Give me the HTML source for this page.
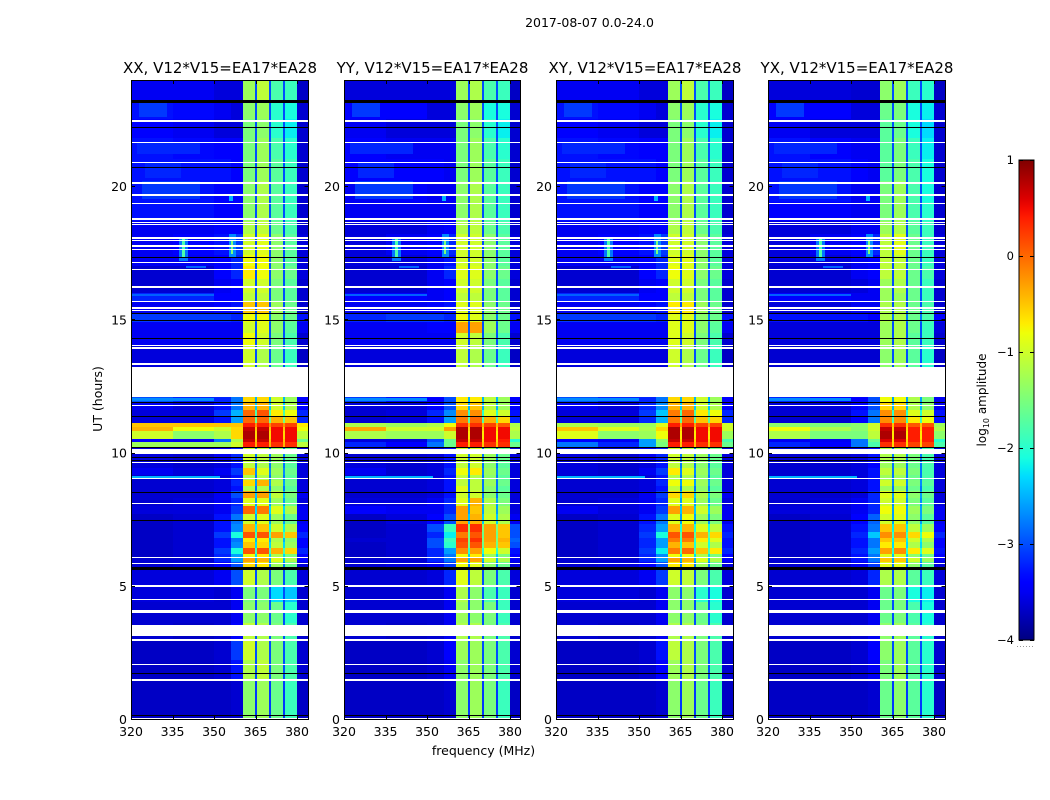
<!DOCTYPE html>
<html>
<head>
<meta charset="utf-8">
<title>2017-08-07 amplitude waterfall</title>
<style>
html,body{margin:0;padding:0;background:#fff;width:1050px;height:800px;overflow:hidden}
svg{display:block}
text{font-family:"DejaVu Sans","Liberation Sans",sans-serif;fill:#000}
</style>
</head>
<body>
<svg id="chart" xmlns="http://www.w3.org/2000/svg" width="1050" height="800" viewBox="0 0 1050 800" shape-rendering="crispEdges">
<defs><linearGradient id="jet-gradient" x1="0" y1="1" x2="0" y2="0"></linearGradient></defs>
<text x="589.5" y="27" font-size="12.5" text-anchor="middle">2017-08-07 0.0-24.0</text>
<text x="483.5" y="755" font-size="12.5" text-anchor="middle">frequency (MHz)</text>
<text x="102" y="399" font-size="12.5" text-anchor="middle" transform="rotate(-90 102 399)">UT (hours)</text>
<text x="986" y="400" font-size="12" text-anchor="middle" transform="rotate(-90 986 400)">log<tspan font-size="8" dy="3">10</tspan><tspan dy="-3"> amplitude</tspan></text>
</svg>
<script>
const panelTitles = ["XX, V12*V15=EA17*EA28","YY, V12*V15=EA17*EA28","XY, V12*V15=EA17*EA28","YX, V12*V15=EA17*EA28"];
const freqTicks = [320,335,350,365,380];
const timeTicks = [0,5,10,15,20];
const colorTicks = [-4,-3,-2,-1,0,1];
const freqEdges = [320,335,350,356,360.5,364.7,365.4,369.8,370.5,374.9,375.6,380,384];
const columnKeys = [0,1,2,3,4,8,5,8,6,8,7,9];
const timeEdges = [0,1.5,2.2,3,3.6,4.4,5,5.7,5.9,6.05,6.2,6.4,6.65,6.8,7,7.3,7.7,8,8.3,8.55,8.75,8.95,9.15,9.4,9.7,10.16,10.38,10.5,10.8,10.94,11.09,11.35,11.6,11.85,12.07,13.22,14,14.5,14.9,15.25,15.7,16,16.5,17,17.4,18.2,18.7,19.4,20.2,21,21.8,22.5,23.2,24];
const flaggedHours = [[22.42,22.47],[21.61,21.66],[20.86,20.91],[20.09,20.14],[19.61,19.71],[19.32,19.37],[18.74,18.79],[18.6,18.64],[18.54,18.58],[18.03,18.08],[17.93,17.98],[17.71,17.8],[17.6,17.64],[17.11,17.16],[16.84,16.89],[16.19,16.24],[15.64,15.69],[15.4,15.45],[15.31,15.36],[13.98,14.03],[13.89,13.94],[13.3,13.34],[12.07,13.22],[11.74,11.79],[9.94,10.12],[9.6,9.65],[9,9.05],[8.05,8.1],[6.04,6.09],[5.81,5.86],[4.96,5.04],[4.46,4.51],[3.99,4.09],[3.13,3.53],[2.94,3.01],[2.02,2.07],[1.43,1.5],[0,0.05]];
const blackHours = [[23.11,23.21],[22.17,22.21],[20.68,20.72],[17.29,17.33],[15.19,15.23],[14.94,14.98],[14.26,14.3],[11.86,11.9],[11.34,11.38],[10.17,10.21],[9.8,9.84],[9.67,9.71],[8.49,8.53],[7.44,7.48],[5.59,5.69],[1.68,1.72],[0.1,0.14]];
const hotSpots = [[17.2,18.1,337.5,340.5,-2.8],[17.3,18,338.6,339.4,-1.8],[17.3,18.2,355.3,357.8,-2.7],[17.45,17.95,356,357,-1.5],[19.45,19.62,355.5,357,-2.5],[15.86,15.94,320,350,-2.9],[16.93,17,340,347,-2.9],[11.95,12.03,320,350,-2.7],[9,9.1,320,352,-2.5],[22.6,23.1,323,333,-3.1],[19.5,20.2,324,345,-3.1],[20.3,20.9,325,338,-3.2],[21.2,21.6,322,345,-3.2]];
const xxValues = [
[-3.7,-3.7,-3.7,-3.65,-1.4,-1.3,-1.6,-1.9,-3.1,-3.7],[-3.7,-3.7,-3.65,-3.3,-1.2,-1.1,-1.5,-1.8,-3,-3.65],[-3.7,-3.7,-3.65,-3.1,-1,-1.2,-1.5,-1.8,-3,-3.65],[-3.65,-3.7,-3.65,-3.4,-1.1,-1.2,-1.5,-1.8,-3,-3.65],[-3.65,-3.65,-3.65,-3.5,-1.4,-1.4,-1.6,-2,-3,-3.65],[-3.6,-3.6,-3.65,-3.5,-1.5,-1.5,-2.3,-2.4,-3,-3.65],[-3.6,-3.6,-3.5,-3,-1,-1.2,-1.5,-1.8,-3,-3.6],[-3.65,-3.6,-3.4,-3,-.6,-.7,-1.3,-1.6,-2.8,-3.6],[-3.65,-3.65,-3.2,-2.6,-.3,-.4,-.9,-1.2,-2.5,-3.4],[-3.7,-3.65,-3.2,-2.6,-.8,-.7,-1.2,-1.5,-2.3,-3.4],
[-3.7,-3.65,-3.1,-2.1,.1,.1,-.4,-.6,-1.8,-3.2],[-3.7,-3.65,-3.3,-2.7,-.5,-.6,-1.1,-1.3,-2.3,-3.4],[-3.7,-3.65,-3.3,-2.8,-.7,-.7,-1.2,-1.4,-2.5,-3.4],[-3.7,-3.65,-3.1,-2.1,.1,.1,-.3,-.5,-1.8,-3.2],[-3.7,-3.65,-3.3,-2.7,-.4,-.5,-1,-1.2,-2.2,-3.4],[-3.7,-3.65,-3.3,-2.8,-1,-.9,-1.3,-1.6,-2.6,-3.5],[-3.6,-3.6,-3.5,-3.1,0,-.1,-.9,-1.2,-2.3,-3.5],[-3.65,-3.6,-3.5,-3.2,-.9,-.9,-1.3,-1.6,-2.6,-3.6],[-3.65,-3.65,-3.5,-3,-.3,-.3,-1.1,-1.5,-2.4,-3.5],[-3.65,-3.65,-3.6,-3.3,-1.2,-1.2,-1.4,-1.7,-2.8,-3.6],
[-3.65,-3.65,-3.6,-3.2,-.6,-.4,-1.2,-1.6,-2.6,-3.6],[-3.65,-3.65,-3.6,-3.3,-1.2,-1.2,-1.4,-1.7,-2.8,-3.6],[-3.5,-3.6,-3.5,-3.1,-.5,-.9,-1.3,-1.6,-2.7,-3.6],[-3.6,-3.65,-3.6,-3.3,-1.1,-1.2,-1.4,-1.7,-2.8,-3.6],[-3.6,-3.65,-3.5,-3.2,-1,-1.1,-1.3,-1.6,-2.8,-3.6],[-1.3,-1.3,-1.3,-1,.4,.4,.3,.3,-.4,-1.1],[-3.4,-3.5,-2.8,-1.2,.7,.7,.5,.5,-.5,-1.6],[-1,-1.4,-1.2,-.6,.8,.8,.5,.5,-.6,-1.1],[-.4,-.8,-1,-.6,.7,.7,.5,.5,-.5,-.8],[-.5,-.5,-.5,-.5,.4,.4,.2,.2,-.2,-.7],
[-3.6,-3.6,-3.3,-2.6,0,0,-.4,-.5,-1.6,-3.2],[-3.6,-3.6,-3.1,-2.5,0,.1,-.7,-.8,-1.8,-3.2],[-3.5,-3.6,-3.3,-2.8,-.4,-.4,-1,-1.2,-2.4,-3.4],[-3,-3.2,-3.2,-2.8,-.6,-.6,-1,-1.3,-2.5,-3.4],[-3.6,-3.6,-3.6,-3.6,-1,-1.2,-1.6,-1.9,-3,-3.7],[-3.6,-3.6,-3.6,-3.6,-1,-1.2,-1.6,-1.9,-3,-3.7],[-3.5,-3.5,-3.5,-3.5,-.8,-1,-1.5,-1.8,-3,-3.65],[-3.5,-3.5,-3.5,-3.5,-1,-.9,-1.4,-1.7,-3,-3.5],[-3.1,-3.1,-3.1,-3.2,-.8,-.8,-1.4,-1.6,-2.8,-3.3],[-3.5,-3.5,-3.4,-3.3,-.5,-.5,-1.3,-1.6,-3,-3.65],
[-3.2,-3.2,-3.4,-3.4,-1.1,-1.1,-1.5,-1.7,-3,-3.65],[-3.65,-3.65,-3.5,-3.4,-1,-1,-1.5,-1.7,-3,-3.65],[-3.65,-3.65,-3.4,-3.2,-.7,-.8,-1.4,-1.6,-3,-3.6],[-3.5,-3.5,-3.4,-3.2,-.8,-.8,-1.4,-1.7,-3,-3.6],[-3.5,-3.4,-3.3,-3.1,-1,-.9,-1.4,-1.7,-3,-3.6],[-3.5,-3.5,-3.4,-3.4,-1.2,-1.1,-1.6,-1.8,-3,-3.65],[-3.3,-3.3,-3.4,-3.4,-1.4,-1.2,-1.7,-1.9,-3,-3.65],[-3.3,-3.3,-3.4,-3.4,-1.4,-1.2,-1.7,-1.9,-3,-3.65],[-3.3,-3.3,-3.3,-3.4,-1.5,-1.3,-1.7,-1.9,-3,-3.65],[-3.3,-3.35,-3.4,-3.4,-1.5,-1.3,-1.8,-2,-3,-3.65],
[-3.4,-3.5,-3.6,-3.6,-1.5,-1.4,-2,-2.2,-3,-3.65],[-3.3,-3.35,-3.5,-3.6,-1.4,-1.3,-2,-2.1,-3,-3.65],[-3.5,-3.5,-3.6,-3.6,-1.3,-1.1,-1.8,-1.9,-3,-3.7]];
const yyValues = [
[-3.7,-3.7,-3.7,-3.65,-1.4,-1.3,-1.5,-1.9,-3.1,-3.7],[-3.7,-3.7,-3.65,-3.5,-1.4,-1.3,-1.5,-1.8,-3,-3.65],[-3.7,-3.7,-3.65,-3.4,-1.3,-1.3,-1.5,-1.8,-3,-3.65],[-3.65,-3.7,-3.65,-3.5,-1.2,-1.2,-1.5,-1.8,-3,-3.65],[-3.65,-3.65,-3.65,-3.5,-1.3,-1.4,-1.5,-1.9,-3,-3.65],[-3.65,-3.65,-3.65,-3.5,-1.2,-1.4,-1.8,-1.9,-3,-3.65],[-3.65,-3.65,-3.6,-3.2,-.9,-1.1,-1.5,-1.8,-3,-3.6],[-3.65,-3.6,-3.5,-3.1,-.8,-.9,-1.4,-1.6,-2.8,-3.6],[-3.65,-3.65,-3.2,-2.8,-.3,-.3,-1,-1.2,-2.5,-3.5],[-3.7,-3.65,-3.2,-2.8,-.8,-.7,-1.3,-1.5,-2.4,-3.4],
[-3.7,-3.65,-3.2,-2.6,-.2,-.3,-.8,-1,-2,-3.3],[-3.7,-3.65,-3,-2,.1,.1,-.4,-.5,-1.6,-3],[-3.65,-3.65,-3,-1.9,.2,.3,-.3,-.4,-1.5,-2.9],[-3.7,-3.65,-3.2,-2.2,-.1,.1,-.3,-.5,-1.6,-3],[-3.7,-3.65,-3,-1.9,.3,.3,-.3,-.5,-1.5,-3],[-3.7,-3.6,-3.4,-3,-.3,-.4,-1,-1.2,-2.4,-3.5],[-3.4,-3.5,-3.5,-3.2,-.3,-.5,-1.1,-1.3,-2.6,-3.6],[-3.6,-3.6,-3.5,-3.2,-.9,-.4,-1.2,-1.5,-2.6,-3.6],[-3.65,-3.65,-3.6,-3.3,-1,-1,-1.4,-1.6,-2.8,-3.6],[-3.65,-3.65,-3.6,-3.3,-.9,-1.1,-1.4,-1.7,-2.8,-3.6],
[-3.65,-3.65,-3.6,-3.3,-1.1,-1.1,-1.3,-1.6,-2.8,-3.6],[-3.65,-3.65,-3.6,-3.3,-1.1,-1.2,-1.4,-1.7,-2.8,-3.6],[-3.5,-3.65,-3.6,-3.2,-.8,-.7,-1.3,-1.6,-2.7,-3.6],[-3.6,-3.65,-3.6,-3.3,-1.1,-1,-1.4,-1.7,-2.8,-3.6],[-3.65,-3.65,-3.6,-3.3,-1,-1,-1.3,-1.6,-2.8,-3.6],[-3.2,-3.4,-2.8,-1.6,.4,.4,.3,.3,-.5,-1.6],[-3.6,-3.6,-3,-1.6,.7,.7,.5,.4,-.6,-2],[-1.2,-1.3,-1.3,-1,.8,.8,.5,.5,-.7,-1.2],[-.35,-1,-1,-.3,.8,.8,.5,.5,-.6,-1.1],[-1.2,-1.3,-1.2,-.8,.3,.3,.2,.1,-.4,-1.2],
[-3.65,-3.6,-3.3,-2.6,-.1,0,-.4,-.6,-1.8,-3.2],[-3.65,-3.6,-3.2,-2.7,-.2,-.2,-.9,-1,-2,-3.3],[-3.6,-3.6,-3.4,-3,-.6,-.5,-1.1,-1.3,-2.5,-3.4],[-3.1,-3.3,-3.4,-3,-.7,-.7,-1.1,-1.3,-2.5,-3.4],[-3.6,-3.6,-3.6,-3.6,-1,-1.2,-1.6,-1.9,-3,-3.7],[-3.6,-3.6,-3.6,-3.6,-1.1,-1.2,-1.6,-1.9,-3,-3.7],[-3.5,-3.5,-3.5,-3.5,-1,-1.1,-1.5,-1.8,-3,-3.65],[-3.5,-3.5,-3.4,-3.4,-.3,-.3,-1.3,-1.6,-3,-3.5],[-3.2,-3.1,-3.1,-3.2,-.8,-.9,-1.4,-1.6,-2.8,-3.3],[-3.5,-3.5,-3.4,-3.3,-.9,-.9,-1.4,-1.6,-3,-3.65],
[-3.4,-3.4,-3.5,-3.4,-1.1,-1.1,-1.5,-1.7,-3,-3.65],[-3.65,-3.65,-3.5,-3.4,-1,-1,-1.5,-1.7,-3,-3.65],[-3.65,-3.65,-3.5,-3.2,-.9,-.9,-1.4,-1.6,-3,-3.6],[-3.6,-3.6,-3.5,-3.3,-1,-1,-1.4,-1.7,-3,-3.6],[-3.6,-3.5,-3.4,-3.2,-1,-1,-1.4,-1.7,-3,-3.6],[-3.6,-3.6,-3.5,-3.4,-1.2,-1.1,-1.6,-1.8,-3,-3.65],[-3.5,-3.5,-3.5,-3.5,-1.4,-1.2,-1.7,-1.9,-3,-3.65],[-3.5,-3.4,-3.5,-3.5,-1.4,-1.2,-1.7,-1.9,-3,-3.65],[-3.4,-3.4,-3.4,-3.5,-1.5,-1.3,-1.7,-1.9,-3,-3.65],[-3.4,-3.5,-3.5,-3.5,-1.5,-1.3,-1.8,-2,-3,-3.65],
[-3.5,-3.6,-3.6,-3.6,-1.5,-1.4,-2,-2.2,-3,-3.65],[-3.4,-3.4,-3.6,-3.6,-1.4,-1.3,-2.1,-2.1,-3,-3.65],[-3.6,-3.6,-3.6,-3.6,-1.3,-1.2,-1.8,-1.9,-3,-3.7]];
const xyValues = [
[-3.7,-3.7,-3.7,-3.65,-1.4,-1.3,-1.6,-1.9,-3.1,-3.7],[-3.7,-3.7,-3.65,-3.4,-1.3,-1.2,-1.5,-1.8,-3,-3.65],[-3.7,-3.7,-3.65,-3.3,-1.1,-1.2,-1.5,-1.8,-3,-3.65],[-3.65,-3.7,-3.65,-3.5,-1.2,-1.2,-1.5,-1.8,-3,-3.65],[-3.65,-3.65,-3.65,-3.5,-1.4,-1.4,-1.6,-2,-3,-3.65],[-3.6,-3.6,-3.65,-3.5,-1.4,-1.4,-2,-2.1,-3,-3.65],[-3.6,-3.6,-3.5,-3.1,-1,-1.1,-1.5,-1.8,-3,-3.6],[-3.65,-3.6,-3.4,-3,-.7,-.7,-1.3,-1.6,-2.8,-3.6],[-3.65,-3.65,-3.2,-2.6,-.3,-.4,-.9,-1.2,-2.5,-3.4],[-3.7,-3.65,-3.2,-2.7,-.8,-.8,-1.2,-1.5,-2.3,-3.4],
[-3.7,-3.65,-3.1,-2.2,-.1,0,-.5,-.7,-1.8,-3.2],[-3.7,-3.65,-3.2,-2.6,-.4,-.5,-1,-1.2,-2.1,-3.3],[-3.7,-3.65,-3.2,-2.6,-.1,-.1,-.7,-.9,-2,-3.3],[-3.7,-3.65,-3.1,-2.1,.1,.1,-.4,-.6,-1.7,-3.2],[-3.7,-3.65,-3.2,-2.6,-.4,-.4,-.9,-1.1,-2.1,-3.3],[-3.7,-3.65,-3.3,-2.8,-.9,-.8,-1.3,-1.5,-2.6,-3.5],[-3.5,-3.6,-3.5,-3.1,-.3,-.4,-1,-1.3,-2.4,-3.5],[-3.65,-3.6,-3.5,-3.2,-.9,-.9,-1.3,-1.6,-2.6,-3.6],[-3.65,-3.65,-3.5,-3.1,-.6,-.6,-1.2,-1.5,-2.4,-3.5],[-3.65,-3.65,-3.6,-3.3,-1.1,-1.2,-1.4,-1.7,-2.8,-3.6],
[-3.65,-3.65,-3.6,-3.2,-.8,-.8,-1.3,-1.6,-2.6,-3.6],[-3.65,-3.65,-3.6,-3.3,-1.2,-1.2,-1.4,-1.7,-2.8,-3.6],[-3.6,-3.65,-3.5,-3.1,-.7,-.9,-1.3,-1.6,-2.7,-3.6],[-3.6,-3.65,-3.6,-3.3,-1.1,-1.2,-1.4,-1.7,-2.8,-3.6],[-3.6,-3.65,-3.5,-3.2,-1,-1.1,-1.3,-1.6,-2.8,-3.6],[-2.8,-3.2,-2.6,-1.5,.4,.4,.3,.3,-.5,-1.6],[-3.4,-3.5,-2.6,-1.4,.7,.7,.5,.5,-.6,-1.8],[-.9,-1.4,-1.3,-.8,.8,.8,.5,.5,-.7,-1.3],[-.5,-.9,-1.2,-.6,.8,.8,.5,.5,-.6,-1],[-1.2,-1.3,-1.3,-.9,.4,.4,.2,.2,-.3,-1],
[-3.6,-3.6,-3.2,-2.5,-.1,0,-.5,-.6,-1.7,-3.2],[-3.6,-3.6,-3.1,-2.4,-.1,0,-.7,-.8,-1.8,-3.2],[-3.5,-3.6,-3.2,-2.7,-.4,-.4,-1,-1.2,-2.4,-3.4],[-3,-3.2,-3.2,-2.8,-.6,-.6,-1,-1.3,-2.5,-3.4],[-3.6,-3.6,-3.6,-3.6,-1.1,-1.2,-1.6,-1.9,-3,-3.7],[-3.6,-3.6,-3.6,-3.6,-1,-1.2,-1.6,-1.9,-3,-3.7],[-3.5,-3.5,-3.5,-3.5,-.9,-1,-1.5,-1.8,-3,-3.65],[-3.5,-3.5,-3.5,-3.5,-.9,-.9,-1.4,-1.7,-3,-3.5],[-3.1,-3.1,-3.1,-3.2,-.9,-.9,-1.4,-1.6,-2.8,-3.3],[-3.5,-3.5,-3.4,-3.3,-.7,-.7,-1.3,-1.6,-3,-3.65],
[-3.2,-3.2,-3.4,-3.4,-1.1,-1.1,-1.5,-1.7,-3,-3.65],[-3.65,-3.65,-3.5,-3.4,-1,-1,-1.5,-1.7,-3,-3.65],[-3.65,-3.65,-3.4,-3.2,-.8,-.9,-1.4,-1.6,-3,-3.6],[-3.5,-3.5,-3.4,-3.2,-.9,-.9,-1.4,-1.7,-3,-3.6],[-3.5,-3.4,-3.3,-3.1,-1,-1,-1.4,-1.7,-3,-3.6],[-3.5,-3.5,-3.4,-3.4,-1.2,-1.1,-1.6,-1.8,-3,-3.65],[-3.3,-3.3,-3.4,-3.4,-1.4,-1.2,-1.7,-1.9,-3,-3.65],[-3.3,-3.3,-3.4,-3.4,-1.4,-1.2,-1.7,-1.9,-3,-3.65],[-3.3,-3.3,-3.3,-3.4,-1.5,-1.3,-1.7,-1.9,-3,-3.65],[-3.3,-3.35,-3.4,-3.4,-1.5,-1.3,-1.8,-2,-3,-3.65],
[-3.4,-3.5,-3.6,-3.6,-1.5,-1.4,-2,-2.2,-3,-3.65],[-3.3,-3.35,-3.5,-3.6,-1.4,-1.3,-2,-2.1,-3,-3.65],[-3.5,-3.5,-3.6,-3.6,-1.3,-1.1,-1.8,-1.9,-3,-3.7]];
const yxValues = [
[-3.7,-3.7,-3.7,-3.65,-1.6,-1.4,-1.7,-2,-3.1,-3.7],[-3.7,-3.7,-3.65,-3.5,-1.5,-1.3,-1.7,-2,-3,-3.65],[-3.7,-3.7,-3.65,-3.4,-1.4,-1.3,-1.7,-2,-3,-3.65],[-3.65,-3.7,-3.65,-3.5,-1.4,-1.3,-1.7,-2,-3,-3.65],[-3.65,-3.65,-3.65,-3.5,-1.6,-1.5,-1.8,-2.1,-3,-3.65],[-3.65,-3.65,-3.65,-3.5,-1.6,-1.5,-2.1,-2.2,-3,-3.65],[-3.65,-3.65,-3.6,-3.2,-1.2,-1.2,-1.7,-1.9,-3,-3.6],[-3.65,-3.65,-3.5,-3.1,-.9,-.9,-1.4,-1.7,-2.8,-3.6],[-3.65,-3.65,-3.3,-2.8,-.5,-.5,-1,-1.3,-2.5,-3.5],[-3.7,-3.65,-3.3,-2.8,-.9,-.9,-1.4,-1.6,-2.4,-3.4],
[-3.7,-3.65,-3.2,-2.6,-.3,-.2,-.7,-.9,-2,-3.3],[-3.7,-3.65,-3.3,-2.8,-.7,-.7,-1.2,-1.4,-2.3,-3.4],[-3.7,-3.65,-3.3,-2.8,-.5,-.5,-1,-1.2,-2.2,-3.4],[-3.7,-3.65,-3.2,-2.4,-.2,-.2,-.6,-.8,-1.9,-3.2],[-3.7,-3.65,-3.3,-2.8,-.5,-.5,-1.1,-1.3,-2.2,-3.4],[-3.7,-3.65,-3.4,-2.9,-1,-.9,-1.4,-1.7,-2.6,-3.5],[-3.6,-3.6,-3.5,-3.2,-.8,-.8,-1.3,-1.5,-2.6,-3.5],[-3.65,-3.6,-3.5,-3.2,-1,-1,-1.5,-1.7,-2.7,-3.6],[-3.65,-3.65,-3.6,-3.2,-.9,-.9,-1.4,-1.6,-2.6,-3.6],[-3.65,-3.65,-3.6,-3.3,-1.3,-1.3,-1.6,-1.8,-2.8,-3.6],
[-3.65,-3.65,-3.6,-3.3,-1,-1,-1.5,-1.7,-2.7,-3.6],[-3.65,-3.65,-3.6,-3.3,-1.3,-1.3,-1.6,-1.8,-2.8,-3.6],[-3.65,-3.65,-3.6,-3.3,-1.1,-1.1,-1.5,-1.8,-2.8,-3.6],[-3.65,-3.65,-3.6,-3.4,-1.3,-1.3,-1.6,-1.8,-2.8,-3.6],[-3.65,-3.65,-3.6,-3.3,-1.2,-1.2,-1.5,-1.8,-2.8,-3.6],[-3.2,-3.4,-2.8,-1.8,.3,.3,.2,.2,-.6,-1.8],[-3.5,-3.5,-2.8,-1.6,.6,.6,.4,.4,-.6,-2],[-1.2,-1.5,-1.5,-1.1,.8,.8,.4,.4,-.7,-1.4],[-.8,-1.2,-1.4,-1,.7,.7,.4,.4,-.6,-1.2],[-1.4,-1.5,-1.4,-1,.3,.3,.1,.1,-.5,-1.3],
[-3.65,-3.65,-3.4,-2.8,-.2,-.2,-.7,-.8,-1.9,-3.3],[-3.65,-3.65,-3.3,-2.8,-.2,-.2,-.9,-1,-2,-3.3],[-3.6,-3.6,-3.4,-3,-.6,-.6,-1.2,-1.4,-2.5,-3.5],[-3.2,-3.4,-3.4,-3,-.8,-.8,-1.2,-1.5,-2.6,-3.5],[-3.65,-3.65,-3.65,-3.65,-1.4,-1.3,-1.7,-2,-3,-3.7],[-3.65,-3.65,-3.65,-3.65,-1.4,-1.3,-1.7,-2,-3,-3.7],[-3.6,-3.6,-3.6,-3.6,-1.3,-1.2,-1.7,-1.9,-3,-3.65],[-3.6,-3.6,-3.6,-3.6,-1.3,-1.2,-1.6,-1.9,-3,-3.6],[-3.3,-3.3,-3.3,-3.4,-1.2,-1.2,-1.6,-1.8,-2.8,-3.4],[-3.6,-3.6,-3.5,-3.5,-1.2,-1.2,-1.6,-1.8,-3,-3.65],
[-3.4,-3.4,-3.5,-3.5,-1.3,-1.3,-1.6,-1.9,-3,-3.65],[-3.65,-3.65,-3.6,-3.5,-1.3,-1.2,-1.6,-1.9,-3,-3.65],[-3.65,-3.65,-3.5,-3.4,-1.1,-1.1,-1.6,-1.8,-3,-3.6],[-3.6,-3.6,-3.5,-3.4,-1.1,-1.1,-1.6,-1.9,-3,-3.6],[-3.6,-3.5,-3.4,-3.2,-1.1,-.9,-1.6,-1.9,-3,-3.6],[-3.6,-3.6,-3.5,-3.5,-1.3,-1.2,-1.7,-1.9,-3,-3.65],[-3.4,-3.4,-3.5,-3.5,-1.5,-1.3,-1.8,-2,-3,-3.65],[-3.3,-3.3,-3.5,-3.5,-1.5,-1.3,-1.8,-2.1,-3,-3.65],[-3.3,-3.3,-3.4,-3.5,-1.7,-1.5,-1.8,-2.1,-3,-3.65],[-3.3,-3.4,-3.5,-3.5,-1.7,-1.5,-1.9,-2.2,-3,-3.65],
[-3.5,-3.6,-3.6,-3.6,-1.7,-1.6,-2.1,-2.3,-3,-3.65],[-3.4,-3.4,-3.6,-3.6,-1.6,-1.5,-2.1,-2.2,-3,-3.65],[-3.6,-3.6,-3.65,-3.65,-1.4,-1.3,-1.9,-2,-3,-3.7]];
const panelValues = [xxValues,yyValues,xyValues,yxValues];
const panelLefts = [131,344,556,768];
const panelRights = [308,520,733,945];
const panelIds = ["xx","yy","xy","yx"];

const svg = document.getElementById('chart');
const NS = 'http://www.w3.org/2000/svg';
const plotTop = 80, plotBottom = 719;
const xPerMHz = 2.767, yPerHour = 26.65;
const cbLeft = 1019, cbWidth = 15, cbTop = 160, cbBottom = 640;

function xScale(left, f){ return left + (f - 320) * xPerMHz; }
function yScale(t){ return plotBottom - t * yPerHour; }
function cbScale(v){ return cbBottom - (v + 4) / 5 * (cbBottom - cbTop); }
function interp(t, pts){
  for (let i = 1; i < pts.length; i++) {
    if (t <= pts[i][0]) {
      const a = pts[i-1], b = pts[i];
      return a[1] + (b[1]-a[1]) * (t-a[0]) / (b[0]-a[0]);
    }
  }
  return pts[pts.length-1][1];
}
function jet(v){
  const t = Math.max(0, Math.min(1, (v + 4) / 5));
  const r = interp(t, [[0,0],[.35,0],[.66,1],[.89,1],[1,.5]]);
  const g = interp(t, [[0,0],[.125,0],[.375,1],[.64,1],[.91,0],[1,0]]);
  const b = interp(t, [[0,.5],[.11,1],[.34,1],[.65,0],[1,0]]);
  return 'rgb(' + Math.round(r*255) + ',' + Math.round(g*255) + ',' + Math.round(b*255) + ')';
}
function mk(tag, attrs, parent){
  const el = document.createElementNS(NS, tag);
  for (const k in attrs) el.setAttribute(k, attrs[k]);
  parent.appendChild(el);
  return el;
}
function pixelBox(x0, x1, y0, y1){
  const left = Math.round(x0), top = Math.round(y0);
  return {x: left, y: top, width: Math.max(1, Math.round(x1) - left), height: Math.max(1, Math.round(y1) - top)};
}

panelValues.forEach(function(rows, p){
  const left = panelLefts[p];
  const right = panelRights[p];
  const clipId = 'clip-' + panelIds[p];
  const clip = mk('clipPath', {id: clipId}, svg);
  mk('rect', {x: left, y: plotTop, width: right - left, height: plotBottom - plotTop + 1}, clip);

  const group = mk('g', {'clip-path': 'url(#' + clipId + ')'}, svg);
  
  

  rows.forEach(function(row, i){
    const y0 = yScale(timeEdges[i+1]), y1 = yScale(timeEdges[i]);
    columnKeys.forEach(function(key, c){
      const box = pixelBox(xScale(left, freqEdges[c]), xScale(left, freqEdges[c+1]), y0, y1);
      box.fill = jet(row[key]);
      const cell = mk('rect', box, group);
      
      
    });
  });

  hotSpots.forEach(function(h){
    const box = pixelBox(xScale(left, h[2]), xScale(left, h[3]), yScale(h[1]), yScale(h[0]));
    box.fill = jet(h[4]);
    const spot = mk('rect', box, group);
    
    
  });

  blackHours.forEach(function(b){
    const box = pixelBox(left, right, yScale(b[1]), yScale(b[0]));
    box.fill = '#000';
    const line = mk('rect', box, group);
    
    
  });

  flaggedHours.forEach(function(b){
    const box = pixelBox(left, right, yScale(b[1]), yScale(b[0]));
    box.fill = '#fff';
    const line = mk('rect', box, group);
    
    
  });

  freqTicks.forEach(function(f){
    const x = Math.round(xScale(left, f)) + .5;
    mk('path', {d: 'M' + x + ' ' + (plotBottom + .5) + 'v-4M' + x + ' ' + plotTop + 'v4', stroke: '#000', 'stroke-width': 1, fill: 'none'}, svg);
    const label = mk('text', {x: xScale(left, f), y: 736, 'font-size': 12.5, 'text-anchor': 'middle'}, svg);
    
    
    label.textContent = f;
  });

  timeTicks.forEach(function(t){
    const y = Math.round(yScale(t)) + .5;
    mk('path', {d: 'M' + left + ' ' + y + 'h4M' + (right + .5) + ' ' + y + 'h-4', stroke: '#000', 'stroke-width': 1, fill: 'none'}, svg);
    const label = mk('text', {x: left - 4, y: yScale(t) + 5, 'font-size': 12.5, 'text-anchor': 'end'}, svg);
    
    
    label.textContent = t;
  });

  const frame = mk('rect', {x: left + .5, y: plotTop + .5, width: right - left, height: plotBottom - plotTop, fill: 'none', stroke: '#000', 'stroke-width': 1}, svg);
  
  

  const title = mk('text', {x: (left + right) / 2 + .5, y: 73, 'font-size': 15, 'text-anchor': 'middle'}, svg);
  
  
  title.textContent = panelTitles[p];
});

const grad = document.getElementById('jet-gradient');
for (let s = 0; s <= 50; s++) {
  mk('stop', {offset: (s * 2) + '%', 'stop-color': jet(-4 + s / 10)}, grad);
}
const bar = mk('rect', {x: cbLeft, y: cbTop, width: cbWidth, height: cbBottom - cbTop, fill: 'url(#jet-gradient)', stroke: '#000', 'stroke-width': 1}, svg);



colorTicks.forEach(function(v){
  const y = Math.round(cbScale(v)) + .5;
  mk('path', {d: 'M' + cbLeft + ' ' + y + 'h4M' + (cbLeft + cbWidth) + ' ' + y + 'h-4', stroke: '#000', 'stroke-width': 1, fill: 'none'}, svg);
  const label = mk('text', {x: cbLeft - 5, y: cbScale(v) + 4, 'font-size': 11.5, 'text-anchor': 'end'}, svg);
  
  
  label.textContent = String(v).replace('-', '\u2212');
});

const dots = mk('path', {d: 'M1017 646.5h17', stroke: '#999', 'stroke-width': 1, 'stroke-dasharray': '1 2', fill: 'none'}, svg);


</script>
</body>
</html>
